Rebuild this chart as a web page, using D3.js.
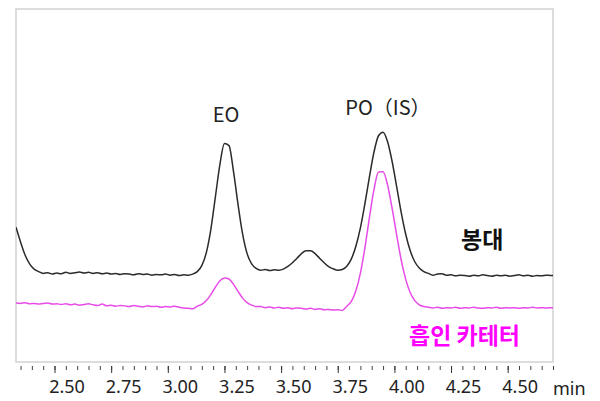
<!DOCTYPE html>
<html>
<head>
<meta charset="utf-8">
<script src="https://cdn.jsdelivr.net/npm/d3@7"></script>
<style>
  body { margin: 0; background: #fff; }
  svg { display: block; }
</style>
</head>
<body>
<div id="chart"></div>
<script>
// retention time grid (min)
const times = [
  2.33, 2.35, 2.37, 2.39, 2.41, 2.43, 2.45, 2.47, 2.49, 2.51,
  2.53, 2.55, 2.57, 2.59, 2.61, 2.63, 2.65, 2.67, 2.69, 2.71,
  2.73, 2.75, 2.77, 2.79, 2.81, 2.83, 2.85, 2.87, 2.89, 2.91,
  2.93, 2.95, 2.97, 2.99, 3.01, 3.03, 3.05, 3.07, 3.09, 3.11,
  3.13, 3.15, 3.17, 3.19, 3.21, 3.23, 3.25, 3.27, 3.29, 3.31,
  3.33, 3.35, 3.37, 3.39, 3.41, 3.43, 3.45, 3.47, 3.49, 3.51,
  3.53, 3.55, 3.57, 3.59, 3.61, 3.63, 3.65, 3.67, 3.69, 3.71,
  3.73, 3.75, 3.77, 3.79, 3.81, 3.83, 3.85, 3.87, 3.89, 3.91,
  3.93, 3.95, 3.97, 3.99, 4.01, 4.03, 4.05, 4.07, 4.09, 4.11,
  4.13, 4.15, 4.17, 4.19, 4.21, 4.23, 4.25, 4.27, 4.29, 4.31,
  4.33, 4.35, 4.37, 4.39, 4.41, 4.43, 4.45, 4.47, 4.49, 4.51,
  4.53, 4.55, 4.57, 4.59, 4.61, 4.63, 4.65, 4.67, 4.69, 4.71
];

// 봉대 (black trace), arbitrary intensity
const bagSignal = [
  38.2, 34.0, 30.3, 27.8, 26.3, 25.6, 25.1, 25.3, 24.9, 25.2,
  25.0, 25.4, 25.1, 25.3, 25.5, 25.2, 25.4, 25.1, 25.3, 25.0,
  25.2, 24.9, 25.1, 24.8, 25.0, 24.9, 24.7, 25.0, 24.8, 24.9,
  24.6, 24.8, 24.7, 24.9, 24.6, 24.8, 24.5, 24.7, 24.6, 24.9,
  25.6, 27.3, 31.0, 37.6, 46.8, 56.0, 61.9, 61.3, 53.9, 44.6,
  36.3, 30.7, 27.8, 26.5, 26.0, 26.2, 25.9, 26.1, 26.0, 26.3,
  27.1, 28.1, 29.4, 30.7, 31.5, 31.5, 30.7, 29.4, 28.1, 27.0,
  26.4, 26.0, 26.2, 27.1, 29.2, 32.8, 38.0, 44.9, 52.5, 59.5,
  64.1, 65.1, 62.4, 56.8, 49.7, 42.4, 36.2, 31.5, 28.4, 26.6,
  25.6, 25.1, 24.6, 24.9, 25.0, 24.6, 24.7, 24.4, 24.6, 24.5,
  24.3, 24.6, 24.4, 24.7, 24.5, 24.3, 24.6, 24.4, 24.6, 24.3,
  24.5, 24.7, 24.4, 24.6, 24.3, 24.5, 24.4, 24.6, 24.5, 24.6
];

// 흡인 카테터 (magenta trace)
const catheterSignal = [
  16.7, 16.6, 16.8, 16.5, 16.6, 16.4, 16.6, 16.7, 16.4, 16.5,
  16.3, 16.5, 16.2, 16.4, 16.1, 16.3, 16.5, 16.2, 16.0, 16.4,
  15.9, 16.1, 15.8, 16.0, 15.9, 15.7, 16.0, 15.8, 15.6, 15.9,
  15.7, 15.8, 15.5, 15.7, 15.6, 15.8, 15.5, 15.3, 15.2, 15.1,
  15.8, 16.3, 17.4, 19.1, 21.2, 23.0, 23.8, 23.5, 22.0, 20.0,
  18.1, 16.8, 16.1, 15.7, 15.7, 15.4, 15.6, 15.3, 15.5, 15.2,
  15.4, 15.1, 15.3, 15.2, 15.0, 15.2, 14.9, 15.1, 14.8, 14.9,
  14.7, 14.8, 14.6, 15.8, 17.2, 20.2, 25.2, 32.4, 41.0, 48.9,
  53.8, 53.9, 50.1, 43.5, 36.0, 28.9, 23.4, 19.6, 17.4, 16.2,
  15.7, 15.5, 15.3, 15.5, 15.2, 15.4, 15.3, 15.5, 15.2, 15.4,
  15.3, 15.5, 15.3, 15.2, 15.4, 15.3, 15.5, 15.2, 15.4, 15.3,
  15.4, 15.2, 15.4, 15.3, 15.5, 15.3, 15.4, 15.3, 15.4, 15.3
];

const majorTicks = [2.5, 2.75, 3.0, 3.25, 3.5, 3.75, 4.0, 4.25, 4.5];
const tickLabels = ["2.50", "2.75", "3.00", "3.25", "3.50", "3.75", "4.00", "4.25", "4.50"];
const peakNames = ["EO", "PO（IS）"];
const peakTimes = [3.257, 3.945];
const peakTops = [61.9, 65.1];

const width = 600;
const height = 401;
const frame = { left: 16, right: 553, top: 9, bottom: 362 };

const svg = d3
  .select("#chart")
  .append("svg")
  .attr("width", width)
  .attr("height", height);

const x = d3.scaleLinear().domain([2.33, 4.70]).range([frame.left, frame.right]);
const y = d3.scaleLinear().domain([0, 100]).range([frame.bottom, frame.top]);

svg
  .append("defs")
  .append("clipPath")
  .attr("id", "clip")
  .append("rect")
  .attr("x", frame.left)
  .attr("y", frame.top)
  .attr("width", frame.right - frame.left)
  .attr("height", frame.bottom - frame.top);

// plot frame
svg
  .append("rect")
  .attr("x", frame.left)
  .attr("y", frame.top)
  .attr("width", frame.right - frame.left)
  .attr("height", frame.bottom - frame.top)
  .style("fill", "none")
  .style("stroke", "#d2d2d2")
  .style("stroke-width", 1.5);

const line = (values) =>
  d3
    .line()
    .x((d, i) => x(times[i]))
    .y((d) => y(d))
    .curve(d3.curveMonotoneX)(values);

const traces = svg.append("g").attr("clip-path", "url(#clip)");
traces
  .append("path")
  .attr("d", line(catheterSignal))
  .style("fill", "none")
  .style("stroke", "#e84ce8")
  .style("stroke-width", 1.5);
traces
  .append("path")
  .attr("d", line(bagSignal))
  .style("fill", "none")
  .style("stroke", "#2b2b2b")
  .style("stroke-width", 1.5);

// minor ticks
const axisY = 366;
svg
  .append("g")
  .attr("transform", `translate(0, ${axisY})`)
  .call(
    d3
      .axisBottom(x)
      .tickValues(d3.range(2.35, 4.701, 0.05))
      .tickSize(4)
      .tickFormat("")
  )
  .call((g) => g.select(".domain").remove())
  .call((g) => g.selectAll("line").style("stroke", "#444"));

// major ticks + labels
svg
  .append("g")
  .attr("transform", `translate(0, ${axisY})`)
  .call(
    d3
      .axisBottom(x)
      .tickValues(majorTicks)
      .tickSize(7)
      .tickFormat((d, i) => tickLabels[i])
  )
  .call((g) => g.select(".domain").remove())
  .call((g) => g.selectAll("line").style("stroke", "#333"))
  .call((g) =>
    g
      .selectAll("text")
      .attr("y", 14)
      .attr("dx", 12)
      .style("font-family", "'Noto Sans', sans-serif")
      .style("font-size", "18px")
      .style("fill", "#222")
  );

svg
  .append("text")
  .attr("x", 553)
  .attr("y", 395)
  .text("min")
  .style("font-family", "'Noto Sans', sans-serif")
  .style("font-size", "18px")
  .style("fill", "#222");

// peak labels
svg
  .selectAll(".peak")
  .data(peakNames)
  .enter()
  .append("text")
  .attr("class", "peak")
  .attr("x", (d, i) => x(peakTimes[i]) + (i === 1 ? 6 : 0))
  .attr("y", (d, i) => y(peakTops[i]) - (i === 1 ? 17 : 21))
  .attr("text-anchor", "middle")
  .text((d) => d)
  .style("font-family", "'Noto Sans CJK KR', sans-serif")
  .style("font-size", "20px")
  .style("fill", "#222");

// series labels
svg
  .append("text")
  .attr("x", 461)
  .attr("y", 248)
  .text("봉대")
  .style("font-family", "'Noto Sans CJK KR', sans-serif")
  .style("font-size", "23px")
  .style("font-weight", "bold")
  .style("fill", "#111");

svg
  .append("text")
  .attr("x", 409)
  .attr("y", 344)
  .text("흡인 카테터")
  .style("font-family", "'Noto Sans CJK KR', sans-serif")
  .style("font-size", "23px")
  .style("font-weight", "bold")
  .style("fill", "#ff00ff");
</script>
</body>
</html>
